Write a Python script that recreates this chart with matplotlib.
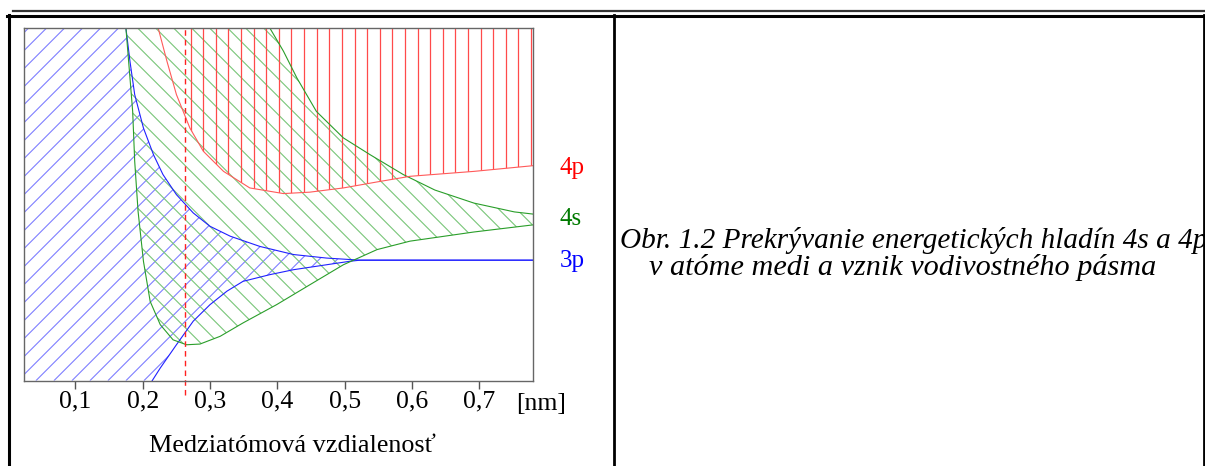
"""
=============================================================
Obr. 1.2 — prekrývanie hladín 4s a 4p v atóme medi
=============================================================
Pásy 3p, 4s, 4p ako funkcia medziatómovej vzdialenosti.
Hodnoty sú odčítané z obrázka (energia v ľubovoľných jednotkách 0–100).
=============================================================
"""

import numpy as np
import matplotlib.pyplot as plt
from matplotlib.lines import Line2D
from matplotlib.patches import Polygon
from matplotlib.collections import LineCollection

# ── Dáta ──────────────────────────────────────────────────
# 3p — horná hrana pásu
r_3p_hore = [0.02, 0.175, 0.181, 0.188, 0.201, 0.216, 0.230, 0.250, 0.275,
             0.300, 0.330, 0.374, 0.424, 0.473, 0.523, 0.597, 0.779]
e_3p_hore = [100, 100, 90.6, 81.2, 71.7, 64.1, 58.5, 52.8, 47.6,
             43.8, 41.0, 38.1, 35.8, 34.8, 34.2, 34.2, 34.2]
# 3p — dolná hrana pásu
r_3p_dole = [0.02, 0.214, 0.226, 0.250, 0.275, 0.300, 0.325, 0.349, 0.389,
             0.424, 0.473, 0.508, 0.523, 0.597, 0.779]
e_3p_dole = [0, 0, 3.6, 10.2, 16.9, 21.6, 25.4, 28.2, 30.1,
             31.5, 32.9, 33.9, 34.2, 34.2, 34.2]

# 4s — horná hrana
r_4s_hore = [0.175, 0.389, 0.409, 0.429, 0.458, 0.498, 0.538, 0.587,
             0.634, 0.692, 0.752, 0.779]
e_4s_hore = [100, 100, 93.5, 85.9, 76.4, 68.9, 64.1, 58.5,
             54.1, 50.4, 47.9, 47.3]
# 4s — dolná hrana
r_4s_dole = [0.175, 0.181, 0.185, 0.188, 0.193, 0.201, 0.211, 0.226, 0.245,
             0.265, 0.285, 0.315, 0.349, 0.399, 0.448, 0.498, 0.548, 0.597,
             0.692, 0.779]
e_4s_dole = [100, 85.9, 76.4, 62.3, 48.1, 33.9, 22.5, 15.9, 11.6,
             10.2, 10.4, 12.6, 16.4, 21.6, 27.2, 32.9, 37.2, 39.6,
             42.2, 44.2]

# 4p — dolná hrana (pás siaha až hore)
r_4p_dole = [0.223, 0.236, 0.250, 0.270, 0.290, 0.320, 0.359, 0.409,
             0.448, 0.498, 0.548, 0.597, 0.692, 0.779]
e_4p_dole = [100, 90.6, 81.2, 71.7, 65.1, 59.4, 54.7, 53.1,
             53.5, 54.7, 56.4, 58.0, 59.4, 61.0]

r_rovnovaha = 0.262          # rovnovážna vzdialenosť v mriežke medi

tick_pos = [0.1, 0.2, 0.3, 0.4, 0.5, 0.6, 0.7]
tick_txt = ['0,1', '0,2', '0,3', '0,4', '0,5', '0,6', '0,7']

# ── Štýl ──────────────────────────────────────────────────
plt.rcParams['font.family'] = ['Liberation Serif', 'DejaVu Serif']

W, H = 1205, 466
fig = plt.figure(figsize=(W / 100, H / 100), dpi=100)


def fx(px):
    return px / W


def fy(py):
    return 1 - py / H


# rám tabuľky okolo obrázka
fig.add_artist(Line2D([fx(13), fx(1205)], [fy(10.5), fy(10.5)],
                      color='#333333', lw=1.6))
fig.add_artist(Line2D([fx(7), fx(1205)], [fy(16), fy(16)], color='black', lw=2.2))
fig.add_artist(Line2D([fx(8.5), fx(8.5)], [fy(15), fy(466)], color='black', lw=2.2))
fig.add_artist(Line2D([fx(614), fx(614)], [fy(15), fy(466)], color='black', lw=2.0))
fig.add_artist(Line2D([fx(1203.5), fx(1203.5)], [fy(15), fy(466)], color='black', lw=2.0))

ax_l, ax_r, ax_t, ax_b = 24.3, 532.5, 28.3, 380.7
ax = fig.add_axes([fx(ax_l), fy(ax_b), fx(ax_r) - fx(ax_l), fy(ax_t) - fy(ax_b)])
ax.set_xlim(0.024, 0.779)
ax.set_ylim(0, 100)

# šrafovanie pod 45° (v pixeloch), krok 18 px, orezané na pás
sklon = (ax_r - ax_l) / (ax_b - ax_t)
krok = 18 / (ax_r - ax_l)


def srafuj(patch, smer, start, farba):
    c = np.arange(start - 2, start + 2, krok)
    if smer > 0:      # "/"
        seg = [[(ci, 0), (ci + 1 / sklon, 1)] for ci in c]
    else:             # "\"
        seg = [[(ci, 1), (ci + 1 / sklon, 0)] for ci in c]
    lc = LineCollection(seg, colors=farba, linewidths=0.8,
                        transform=ax.transAxes)
    ax.add_collection(lc)
    lc.set_clip_path(patch)


# ── Pás 3p (modrý, šrafovanie /) ──────────────────────────
p3 = Polygon(np.column_stack([np.r_[r_3p_hore, r_3p_dole[::-1]],
                              np.r_[e_3p_hore, e_3p_dole[::-1]]]),
             closed=True, facecolor='none', edgecolor='none')
ax.add_patch(p3)
srafuj(p3, +1, (36.7 - ax_l) / (ax_r - ax_l) - 1 / sklon, '#7e7eff')

# ── Pás 4s (zelený, šrafovanie \) ─────────────────────────
p4s = Polygon(np.column_stack([np.r_[r_4s_hore, r_4s_dole[::-1]],
                               np.r_[e_4s_hore, e_4s_dole[::-1]]]),
              closed=True, facecolor='none', edgecolor='none')
ax.add_patch(p4s)
srafuj(p4s, -1, (128.3 - ax_l) / (ax_r - ax_l), '#78c678')

# ── Pás 4p (červený, zvislé čiary napravo od r0) ──────────
p4p = Polygon(np.column_stack([np.r_[r_4p_dole, 0.79, 0.223],
                               np.r_[e_4p_dole, 100, 100]]),
              closed=True, facecolor='none', edgecolor='none')
ax.add_patch(p4p)
sraf = ax.vlines(np.arange(0.2712, 0.78, 0.01872), 0, 100,
                 colors='#ff4a4a', linewidth=0.9)
sraf.set_clip_path(p4p)

# okrajové krivky (bez úsekov po okraji grafu)
ax.plot(r_3p_hore[1:], e_3p_hore[1:], color='#2020ff', lw=0.8)
ax.plot(r_3p_dole[1:], e_3p_dole[1:], color='#2020ff', lw=0.8)
ax.plot(r_4s_hore[1:], e_4s_hore[1:], color='#2a9e2a', lw=0.8)
ax.plot(r_4s_dole, e_4s_dole, color='#2a9e2a', lw=0.8)
ax.plot(r_4p_dole, e_4p_dole, color='#ff5a5a', lw=0.8)

# rovnovážna vzdialenosť
ax.plot([r_rovnovaha, r_rovnovaha], [-4, 100], color='#ff2020', lw=1.0,
        ls=(0, (4, 3)), clip_on=False)

# ── Osi ───────────────────────────────────────────────────
for s in ax.spines.values():
    s.set_color('#666666')
    s.set_linewidth(1.0)
ax.set_yticks([])
ax.set_xticks(tick_pos)
ax.set_xticklabels(tick_txt)
ax.tick_params(axis='x', direction='out', length=5.8, width=1.0,
               color='#555555', labelsize=18.5, pad=1)

ax.text(0.792, -0.065, '[nm]', transform=ax.get_xaxis_transform(),
        ha='center', va='center', fontsize=18.5)
fig.text(fx(292), fy(452), 'Medziatómová vzdialenosť', ha='center',
         va='baseline', fontsize=18.8)

# popisy pásov
fig.text(fx(560), fy(174), '4p', color='#ff0000', fontsize=18, va='baseline')
fig.text(fx(560), fy(225), '4s', color='#007a00', fontsize=18, va='baseline')
fig.text(fx(560), fy(266.5), '3p', color='#0000ff', fontsize=18, va='baseline')

# ── Popis obrázka (v origináli presahuje pravý okraj) ─────
fig.text(fx(620), fy(248), 'Obr. 1.2 Prekrývanie energetických hladín 4s a 4p',
         style='italic', fontsize=21.1, va='baseline', ha='left')
fig.text(fx(903), fy(275), 'v atóme medi a vznik vodivostného pásma',
         style='italic', fontsize=21.8, va='baseline', ha='center')

plt.savefig('out.png', dpi=100)
